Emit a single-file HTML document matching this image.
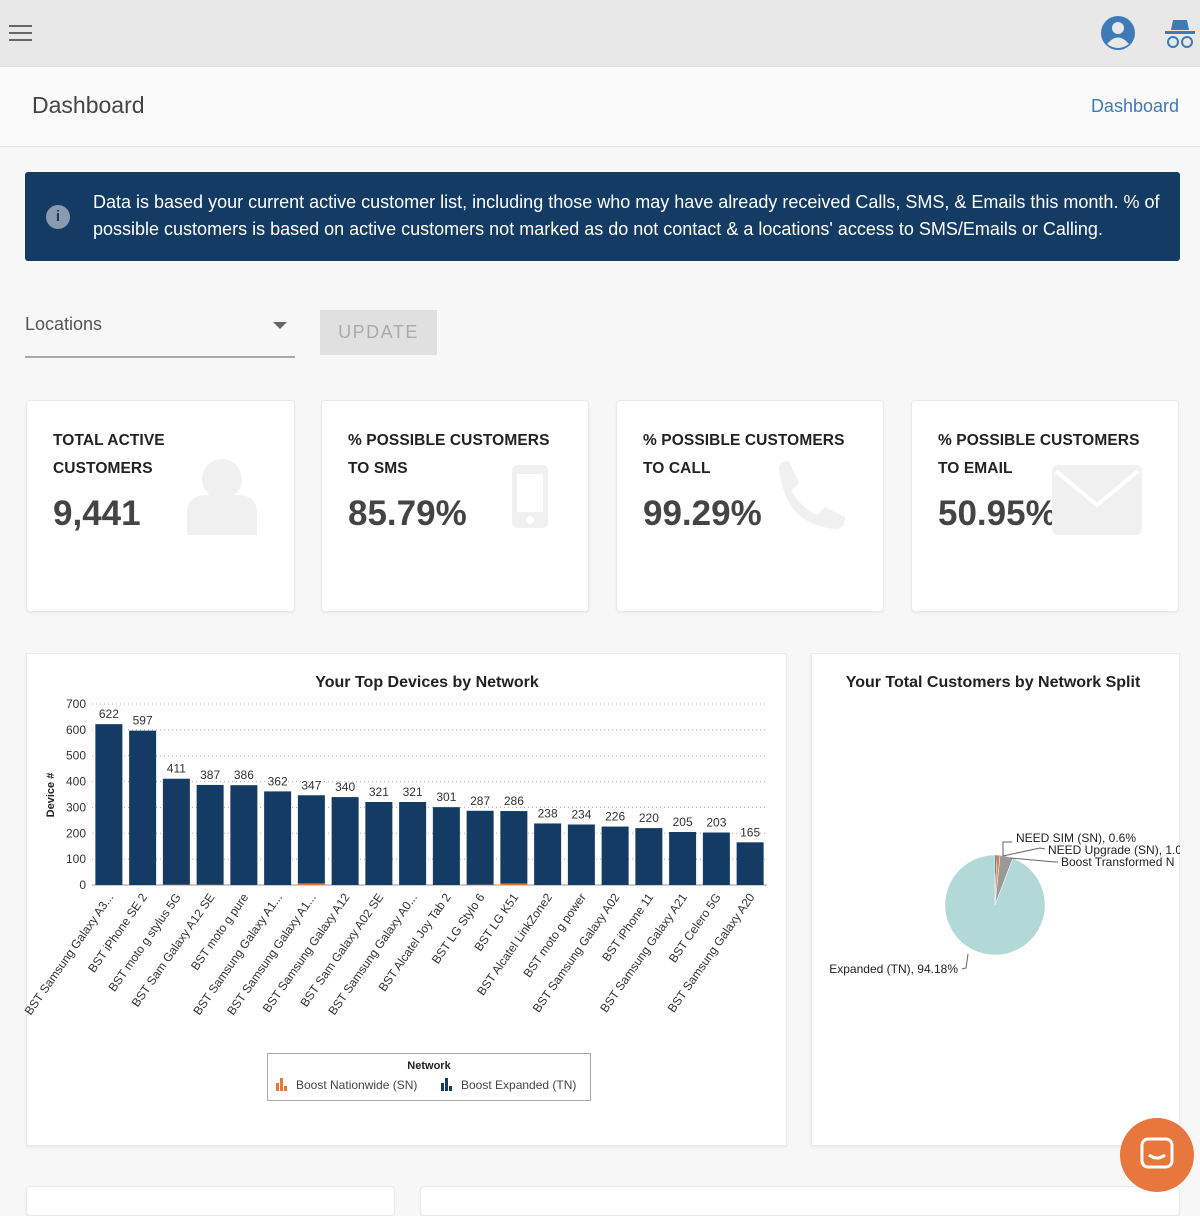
<!DOCTYPE html>
<html><head><meta charset="utf-8">
<style>
*{box-sizing:border-box;margin:0;padding:0}
body{width:1200px;height:1200px;overflow:hidden;background:#f7f7f7;font-family:"Liberation Sans",sans-serif;position:relative;color:#333}
.abs{position:absolute}
.topbar{left:0;top:0;width:1200px;height:67px;background:#e8e8e8;border-bottom:1px solid #ddd}
.header{left:0;top:67px;width:1200px;height:80px;background:#fafafa;border-bottom:1px solid #e4e4e4}
.card{background:#fff;border:1px solid #eaeaea;border-radius:4px;box-shadow:0 1px 2px rgba(0,0,0,.06)}
.ctitle{font-size:15.5px;font-weight:bold;color:#222;line-height:28px;letter-spacing:.1px}
.cval{font-size:35px;font-weight:bold;color:#444;top:93px;left:26px}
</style></head><body>
<div class="abs topbar">
  <div class="abs" style="left:9px;top:25px;width:23px;height:16px">
    <div style="height:2px;background:#666;margin-bottom:5px"></div><div style="height:2px;background:#666;margin-bottom:5px"></div><div style="height:2px;background:#666"></div>
  </div>
  <svg class="abs" style="left:1100px;top:15px" width="36" height="36" viewBox="0 0 36 36"><circle cx="18" cy="18" r="17" fill="#3d7ab8"/><circle cx="18" cy="13" r="6" fill="#e8e8e8"/><path d="M7 29 Q18 16 29 29 Q18 37 7 29Z" fill="#e8e8e8"/></svg>
  <svg class="abs" style="left:1163px;top:16px" width="34" height="34" viewBox="0 0 34 34"><path d="M10 4 L24 4 L26 14 L8 14Z" fill="#3d7ab8"/><rect x="2" y="15" width="30" height="3" fill="#3d7ab8"/><circle cx="10" cy="26" r="5" fill="none" stroke="#3d7ab8" stroke-width="2"/><circle cx="24" cy="26" r="5" fill="none" stroke="#3d7ab8" stroke-width="2"/></svg>
</div>
<div class="abs header">
  <div class="abs" style="left:32px;top:25px;font-size:23px;color:#444">Dashboard</div>
  <div class="abs" style="right:21px;top:29px;font-size:18px;color:#3d7ab8">Dashboard</div>
</div>
<div class="abs" style="left:25px;top:172px;width:1155px;height:89px;background:#143b63;border-radius:3px;color:#fff;font-size:18px;line-height:27px;padding:17px 20px 0 68px">
  <div class="abs" style="left:21px;top:33px;width:24px;height:24px;border-radius:50%;background:#8a9bb0;color:#143b63;text-align:center;font-weight:bold;font-size:15px;line-height:24px">i</div>
  Data is based your current active customer list, including those who may have already received Calls, SMS, &amp; Emails this month. % of possible customers is based on active customers not marked as do not contact &amp; a locations' access to SMS/Emails or Calling.
</div>
<div class="abs" style="left:25px;top:310px;width:270px;height:48px;border-bottom:2px solid #aaa">
  <div class="abs" style="left:0;top:4px;font-size:18px;color:#555">Locations</div>
  <div class="abs" style="left:248px;top:12px;width:0;height:0;border-left:7px solid transparent;border-right:7px solid transparent;border-top:7px solid #666"></div>
</div>
<div class="abs" style="left:320px;top:310px;width:117px;height:45px;background:#e0e0e0;color:#aaa;font-size:18px;letter-spacing:1.5px;text-align:center;line-height:45px">UPDATE</div>

<div class="abs card" style="left:26px;top:400px;width:269px;height:212px">
  <div class="abs ctitle" style="left:26px;top:26px">TOTAL ACTIVE<br>CUSTOMERS</div>
  <div class="abs cval">9,441</div>
  <svg class="abs" style="left:160px;top:58px" width="70" height="76"><circle cx="35" cy="20" r="20" fill="#f0f0f0"/><path d="M0 76 L0 54 Q0 36 20 36 L50 36 Q70 36 70 54 L70 76Z" fill="#f0f0f0"/></svg>
</div>
<div class="abs card" style="left:321px;top:400px;width:268px;height:212px">
  <div class="abs ctitle" style="left:26px;top:26px">% POSSIBLE CUSTOMERS<br>TO SMS</div>
  <div class="abs cval">85.79%</div>
  <svg class="abs" style="left:190px;top:64px" width="38" height="64"><rect x="0" y="0" width="36" height="63" rx="5" fill="#f0f0f0"/><rect x="5" y="9" width="26" height="38" fill="#fff"/><circle cx="18" cy="55" r="4" fill="#fff"/></svg>
</div>
<div class="abs card" style="left:616px;top:400px;width:268px;height:212px">
  <div class="abs ctitle" style="left:26px;top:26px">% POSSIBLE CUSTOMERS<br>TO CALL</div>
  <div class="abs cval">99.29%</div>
  <svg class="abs" style="left:158px;top:58px" width="72" height="72"><path d="M4 10 Q4 2 14 2 L24 24 L16 32 Q28 50 42 56 L50 48 L70 58 Q70 70 60 70 Q10 66 4 10Z" fill="#f0f0f0"/></svg>
</div>
<div class="abs card" style="left:911px;top:400px;width:268px;height:212px">
  <div class="abs ctitle" style="left:26px;top:26px">% POSSIBLE CUSTOMERS<br>TO EMAIL</div>
  <div class="abs cval">50.95%</div>
  <svg class="abs" style="left:140px;top:64px" width="90" height="70"><rect x="0" y="0" width="90" height="70" rx="6" fill="#f0f0f0"/><path d="M4 6 L45 40 L86 6" fill="none" stroke="#fff" stroke-width="4"/></svg>
</div>

<div class="abs card" style="left:26px;top:653px;width:761px;height:493px;border-radius:0"></div>
<div class="abs card" style="left:811px;top:653px;width:369px;height:493px;border-radius:0"></div>
<div class="abs card" style="left:26px;top:1186px;width:369px;height:30px"></div>
<div class="abs card" style="left:420px;top:1186px;width:760px;height:30px"></div>

<svg class="abs" id="chart" style="left:0;top:0" width="1200" height="1200"></svg>

<div class="abs" style="left:1120px;top:1118px;width:74px;height:74px;border-radius:50%;background:#e8773d">
  <svg style="position:absolute;left:20px;top:19px" width="34" height="36"><rect x="2" y="2" width="30" height="28" rx="6" fill="none" stroke="#fff" stroke-width="3"/><path d="M9 18 Q17 24 25 18" fill="none" stroke="#fff" stroke-width="3"/></svg>
</div>

<script>
const categories=["BST Samsung Galaxy A3...","BST iPhone SE 2","BST moto g stylus 5G","BST Sam Galaxy A12 SE","BST moto g pure","BST Samsung Galaxy A1...","BST Samsung Galaxy A1...","BST Samsung Galaxy A12","BST Sam Galaxy A02 SE","BST Samsung Galaxy A0...","BST Alcatel Joy Tab 2","BST LG Stylo 6","BST LG K51","BST Alcatel LinkZone2","BST moto g power","BST Samsung Galaxy A02","BST iPhone 11","BST Samsung Galaxy A21","BST Celero 5G","BST Samsung Galaxy A20"];
const totals=[622,597,411,387,386,362,347,340,321,321,301,287,286,238,234,226,220,205,203,165];
const nationwide=[0,0,1,1,0,0,6,0,0,0,0,1,5,0,0,0,0,0,0,0];
const yTicks=[0,100,200,300,400,500,600,700];
const pieLabels=["NEED SIM (SN), 0.6%","NEED Upgrade (SN), 1.0","Boost Transformed N","Expanded (TN), 94.18%"];
const pieValues=[0.6,1.02,4.2,94.18];
const pieColors=["#143b63","#e8773d","#999999","#b3d8d8"];

const NS="http://www.w3.org/2000/svg";
const svg=document.getElementById('chart');
function mk(t,a,p){const e=document.createElementNS(NS,t);for(const k in a)e.setAttribute(k,a[k]);(p||svg).appendChild(e);return e;}
const x0=92,x1=767,y0=885,yTop=704,ymax=700;
const y=v=>y0-(v/ymax)*(y0-yTop);
const step=(x1-x0)/categories.length;
const xc=i=>x0+step*(i+0.5);
const bw=27;

let t=mk('text',{x:427,y:687,'text-anchor':'middle','font-size':16,'font-weight':'bold',fill:'#222'});


t.textContent="Your Top Devices by Network";
t=mk('text',{x:54,y:795,'text-anchor':'middle','font-size':11,'font-weight':'bold',fill:'#222',transform:'rotate(-90 54 795)'});


t.textContent="Device #";

yTicks.forEach(v=>{
  const g=mk('line',{x1:x0,x2:x1,y1:y(v),y2:y(v),stroke:'#aaa','stroke-dasharray':'1 3','stroke-width':1});
  
  
  const l=mk('text',{x:86,y:y(v)+4,'text-anchor':'end','font-size':12,fill:'#333'});
  
  
  l.textContent=v;
});
const ax=mk('line',{x1:x0,x2:x1,y1:y0,y2:y0,stroke:'#999','stroke-width':1});



totals.forEach((v,i)=>{
  const n=nationwide[i], tn=v-n;
  const b=mk('rect',{x:xc(i)-bw/2,y:y(v),width:bw,height:y(n)-y(v),fill:'#143b63'});
  
  
  if(n>0){
    const o=mk('rect',{x:xc(i)-bw/2,y:y(n),width:bw,height:y0-y(n),fill:'#e8773d'});
    
    
  }
  const lv=mk('text',{x:xc(i),y:y(v)-6,'text-anchor':'middle','font-size':12,fill:'#333'});
  
  
  lv.textContent=v;
  const cx=xc(i)+5, cy=y0+12;
  const lc=mk('text',{x:cx,y:cy,'text-anchor':'end','font-size':12,fill:'#333',transform:`rotate(-55 ${cx} ${cy})`});
  
  
  lc.textContent=categories[i];
});

const lg=mk('g',{});


mk('rect',{x:267.5,y:1053.5,width:323,height:47,fill:'#fff',stroke:'#aaa'},lg);
let lt=mk('text',{x:429,y:1069,'text-anchor':'middle','font-size':11,'font-weight':'bold',fill:'#222'},lg);lt.textContent="Network";
function legItem(xp,col,label,name){
  const g=mk('g',{},lg);
  
  
  mk('rect',{x:xp,y:1083,width:3,height:8,fill:col},g);
  mk('rect',{x:xp+4,y:1078,width:3,height:13,fill:col},g);
  mk('rect',{x:xp+8,y:1086,width:3,height:5,fill:col},g);
  const tt=mk('text',{x:xp+20,y:1089,'font-size':12,fill:'#444'},g);tt.textContent=label;
}
legItem(276,'#e8773d','Boost Nationwide (SN)','legend-entry-nationwide');
legItem(441,'#143b63','Boost Expanded (TN)','legend-entry-expanded');

t=mk('text',{x:993,y:687,'text-anchor':'middle','font-size':16,'font-weight':'bold',fill:'#222'});


t.textContent="Your Total Customers by Network Split";
const pcx=995,pcy=905,pr=50;
const tot=pieValues.reduce((a,b)=>a+b,0);
let ang=-Math.PI/2;
const pieClip=mk('clipPath',{id:'pc'});
mk('rect',{x:0,y:0,width:1180,height:1200},pieClip);
pieValues.forEach((v,i)=>{
  const a2=ang+v/tot*2*Math.PI;
  const large=(a2-ang)>Math.PI?1:0;
  const p=mk('path',{d:`M${pcx} ${pcy} L${pcx+pr*Math.cos(ang)} ${pcy+pr*Math.sin(ang)} A${pr} ${pr} 0 ${large} 1 ${pcx+pr*Math.cos(a2)} ${pcy+pr*Math.sin(a2)}Z`,fill:pieColors[i],stroke:'#fff','stroke-width':0.5});
  
  
  ang=a2;
});
const lblPos=[[1016,842,'start'],[1048,854,'start'],[1061,866,'start'],[958,973,'end']];
const leaders=["M1003 856 L1003 842 L1012 842","M1003 856 L1040 848 L1045 849","M1010 858 L1055 862 L1058 862","M968 954 L966 968 L962 969"];
pieLabels.forEach((s,i)=>{
  const ld=mk('path',{d:leaders[i],fill:'none',stroke:'#666','stroke-width':1});
  
  
  const tx=mk('text',{x:lblPos[i][0],y:lblPos[i][1],'text-anchor':lblPos[i][2],'font-size':12,fill:'#222','clip-path':'url(#pc)'});
  
  
  tx.textContent=s;
});
</script>
</body></html>
